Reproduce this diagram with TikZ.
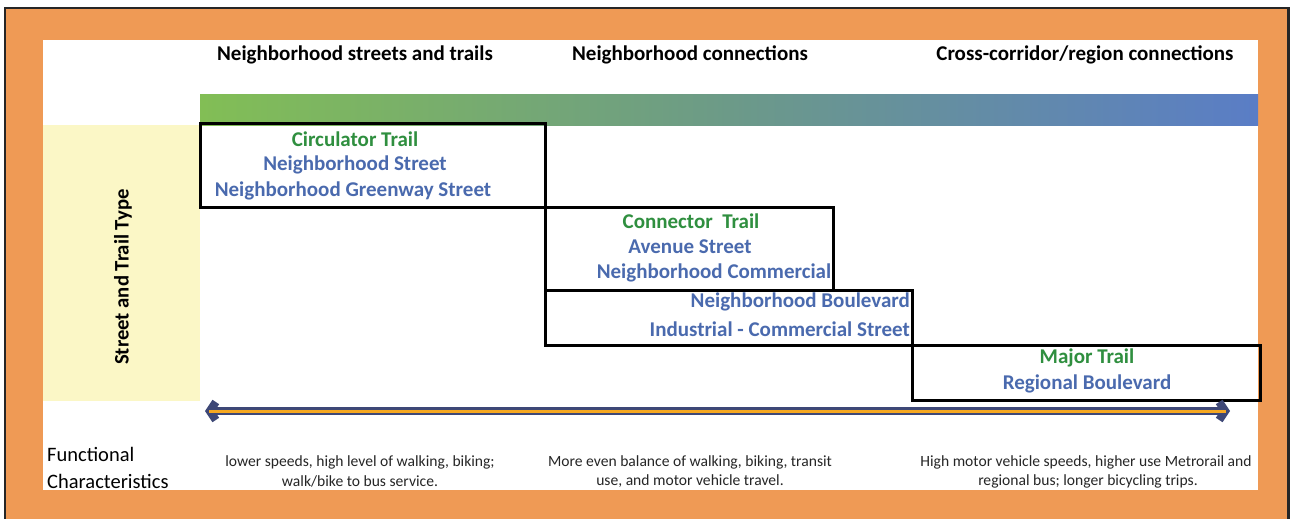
\documentclass[tikz,border=0pt]{standalone}
\usepackage{fontspec}
\setmainfont{Carlito}
\usetikzlibrary{arrows.meta}
\definecolor{frameorange}{HTML}{EF9A55}
\definecolor{paleyellow}{HTML}{FBF7C6}
\definecolor{trailgreen}{HTML}{2F8F3F}
\definecolor{streetblue}{HTML}{4A6AAE}
\definecolor{bargreen}{HTML}{82BE55}
\definecolor{barmid}{HTML}{6C9A88}
\definecolor{barblue}{HTML}{5A7DC6}
\definecolor{arrownavy}{HTML}{3E4877}
\definecolor{arroworange}{HTML}{F6A821}
\tikzset{
  x=1pt, y=-1pt,
  heading/.style={font=\fontsize{21}{24}\selectfont\bfseries, text=black, inner sep=0pt},
  trail/.style={font=\fontsize{21}{24}\selectfont\bfseries, text=trailgreen, inner sep=0pt},
  street/.style={font=\fontsize{21}{24}\selectfont\bfseries, text=streetblue, inner sep=0pt},
  typebox/.style={draw=black, line width=3pt, inner sep=0pt},
  note/.style={font=\fontsize{15.6}{19}\selectfont, text=black!85, inner sep=0pt},
  sidelabel/.style={font=\fontsize{20.5}{24}\selectfont, text=black, inner sep=0pt, anchor=west},
}
\begin{document}
\begin{tikzpicture}
\useasboundingbox (0,0) rectangle (1291,519);
% frame
\fill[white] (0,0) rectangle (1291,519);
\fill[black!85] (4,7) rectangle (1290,519);
\fill[frameorange] (6,9) rectangle (1287,519);
\fill[white] (43,40) rectangle (1258,490);
% side panel
\fill[paleyellow] (43,125) rectangle (200,401);
\node[font=\fontsize{20.7}{24}\selectfont\bfseries, rotate=90, inner sep=0pt] (ytitle) at (123,277) {Street and Trail Type};
% gradient bar
\shade[left color=bargreen, right color=barblue, middle color=barmid] (200,95) rectangle (1258,125);
% column headings
\node[heading] (h1) at (355,55) {Neighborhood streets and trails};
\node[heading] (h2) at (690,55) {Neighborhood connections};
\node[heading] (h3) at (1085,55) {Cross-corridor/region connections};
% type boxes
\node[typebox, minimum width=345pt, minimum height=84pt] (b1) at (372.5,165) {};
\node[typebox, minimum width=288pt, minimum height=83pt] (b2) at (689,248.5) {};
\node[typebox, minimum width=367pt, minimum height=55pt] (b3) at (728.5,317.5) {};
\node[typebox, minimum width=348pt, minimum height=55pt] (b4) at (1086,372.5) {};
% box 1
\node[trail] (t1) at (355,139) {Circulator Trail};
\node[street] (s1a) at (355,165) {Neighborhood Street};
\node[street] (s1b) at (353,191) {Neighborhood Greenway Street};
% box 2
\node[trail] (t2) at (691,221) {Connector\ \ Trail};
\node[street] (s2a) at (690,247) {Avenue Street};
\node[street] (s2b) at (714,273) {Neighborhood Commercial};
% box 3
\node[street, anchor=east] (s3a) at (910,302) {Neighborhood Boulevard};
\node[street, anchor=east] (s3b) at (910,329) {Industrial - Commercial Street};
% box 4
\node[trail] (t4) at (1087,358) {Major Trail};
\node[street] (s4) at (1087,384) {Regional Boulevard};
% double arrow
\coordinate (aL) at (205,411);
\coordinate (aR) at (1230,411);
\draw[arrownavy, line width=8pt, {Straight Barb[length=6pt,width=18pt]}-{Straight Barb[length=6pt,width=18pt]}] (aL) -- (aR);
\draw[arroworange, line width=3pt] ([xshift=4pt]aL) -- ([xshift=-4pt]aR);
% functional characteristics
\node[sidelabel] (f1) at (47,454) {Functional};
\node[sidelabel] (f2) at (47,481) {Characteristics};
\node[note] (n1a) at (360,462) {lower speeds, high level of walking, biking;};
\node[note] (n1b) at (360,481) {walk/bike to bus service.};
\node[note] (n2a) at (690,462) {More even balance of walking, biking, transit};
\node[note] (n2b) at (690,481) {use, and motor vehicle travel.};
\node[note] (n3a) at (1086,462) {High motor vehicle speeds, higher use Metrorail and};
\node[note] (n3b) at (1088,481) {regional bus; longer bicycling trips.};
\end{tikzpicture}
\end{document}
